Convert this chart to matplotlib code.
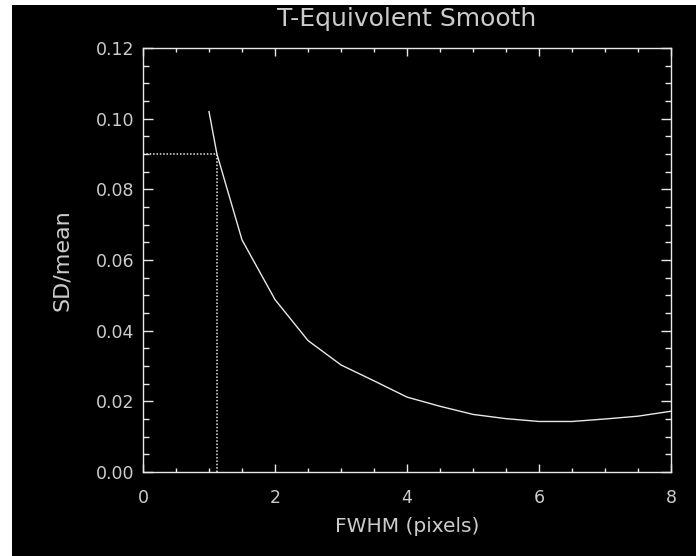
import matplotlib
matplotlib.use("Agg")
import matplotlib.pyplot as plt
from matplotlib.patches import Rectangle
from matplotlib.ticker import MultipleLocator, FormatStrFormatter

# Relative noise (SD/mean) versus smoothing kernel width
fwhm = [1.0, 1.12, 1.5, 2.0, 2.5, 3.0, 3.5, 4.0, 4.5, 5.0, 5.5, 6.0, 6.5, 7.0, 7.5, 8.0]
sd_mean = [0.102, 0.090, 0.0657, 0.0488, 0.0372, 0.0303, 0.0258, 0.0212, 0.0186, 0.0163,
           0.0151, 0.0143, 0.0143, 0.0150, 0.0158, 0.0172]

# Target noise level and the matching FWHM
target_level = 0.090
target_fwhm = 1.12

title = "T-Equivolent Smooth"
xlabel = "FWHM (pixels)"
ylabel = "SD/mean"

fg = "#cccccc"
line_c = "#e8e8e8"
W, H = 696, 556
fig = plt.figure(figsize=(W / 100, H / 100), dpi=100, facecolor="white")
fig.patches.append(Rectangle((12 / W, 0), (W - 12) / W, (H - 5) / H,
                             transform=fig.transFigure, facecolor="black",
                             edgecolor="none", zorder=-5))

ax = fig.add_axes([143 / W, 84 / H, 528 / W, 424 / H])
ax.set_facecolor("black")

ax.plot(fwhm, sd_mean, color=line_c, lw=1.0, solid_joinstyle="miter")
ax.plot([0, target_fwhm], [target_level, target_level], color=line_c, lw=1.1,
        linestyle=(0, (1, 1.2)))
ax.plot([target_fwhm, target_fwhm], [0, target_level], color=line_c, lw=1.1,
        linestyle=(0, (1, 1.2)))

ax.set_xlim(0, 8)
ax.set_ylim(0, 0.12)
ax.xaxis.set_major_locator(MultipleLocator(2))
ax.xaxis.set_minor_locator(MultipleLocator(0.5))
ax.yaxis.set_major_locator(MultipleLocator(0.02))
ax.yaxis.set_minor_locator(MultipleLocator(0.005))
ax.yaxis.set_major_formatter(FormatStrFormatter("%.2f"))

for s in ax.spines.values():
    s.set_color(line_c)
    s.set_linewidth(1.0)

ax.tick_params(axis="x", which="major", direction="in", length=6, width=1,
               color=line_c, top=True, labelsize=12.5, labelcolor=fg, pad=12)
ax.tick_params(axis="x", which="minor", direction="in", length=3, width=1,
               color=line_c, top=True)
ax.tick_params(axis="y", which="major", direction="in", length=7.5, width=1,
               color=line_c, right=True, labelsize=12.5, labelcolor=fg, pad=6)
ax.tick_params(axis="y", which="minor", direction="in", length=4, width=1,
               color=line_c, right=True)

fig.text(407 / W, 1 - 19 / H, title, ha="center", va="center", color=fg, fontsize=18)
fig.text(407 / W, 1 - 527 / H, xlabel, ha="center", va="center", color=fg, fontsize=14.5)
fig.text(62 / W, 1 - 260 / H, ylabel, ha="center", va="center", color=fg,
         fontsize=16, rotation=90)

fig.savefig("out.png", dpi=100, facecolor="white")
